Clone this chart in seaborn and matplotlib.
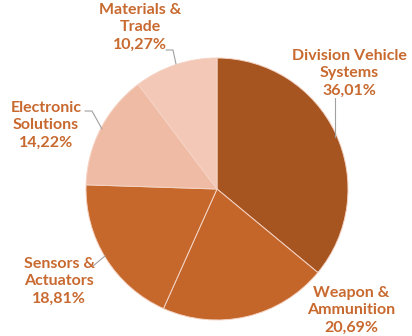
import matplotlib
matplotlib.use("Agg")
import matplotlib.pyplot as plt
import seaborn as sns

sns.set_theme(style="white")
plt.rcParams["font.family"] = ["Lato", "DejaVu Sans"]

# Revenue share by division
segments = ["Division Vehicle\nSystems", "Weapon &\nAmmunition", "Sensors &\nActuators",
            "Electronic\nSolutions", "Materials &\nTrade"]
shares = [36.01, 20.69, 18.81, 14.22, 10.27]
colors = ["#A65420", "#C4652A", "#C6682B", "#F0BBA5", "#F3C8B7"]

W, H = 412, 336
cx, cy, R = 217, 189, 131  # pie centre and radius in pixels

fig = plt.figure(figsize=(W / 100, H / 100), dpi=100)
ax = fig.add_axes([0, 0, 1, 1])

ax.pie(shares, colors=colors, startangle=90, counterclock=False, radius=1,
       wedgeprops=dict(edgecolor="#F4D3C4", linewidth=0.7))


def px(x, y):
    return ((x - cx) / R, (cy - y) / R)


label_pos = [(349, 73), (351, 310), (59, 281), (46, 125), (140, 27)]
text_color = "#C8692F"
for name, val, (lx, ly) in zip(segments, shares, label_pos):
    txt = f"{name}\n{val:.2f}%".replace(".", ",")
    ax.text(*px(lx, ly), txt, ha="center", va="center", fontsize=11.5,
            fontweight="bold", color=text_color, linespacing=1.3)

# Leader lines
leaders = [
    [(335, 98), (335, 137)],
    [(166, 50), (173, 50), (176, 64)],
    [(85, 111), (92, 111), (102, 129)],
    [(93, 266), (105, 256)],
]
for pts in leaders:
    xs, ys = zip(*[px(x, y) for x, y in pts])
    ax.plot(xs, ys, color="#A0A0A0", linewidth=0.8)

ax.set_xlim(-cx / R, (W - cx) / R)
ax.set_ylim(-(H - cy) / R, cy / R)
ax.set_aspect("equal", adjustable="box")
ax.axis("off")

fig.savefig("out.png", dpi=100, facecolor="white")
